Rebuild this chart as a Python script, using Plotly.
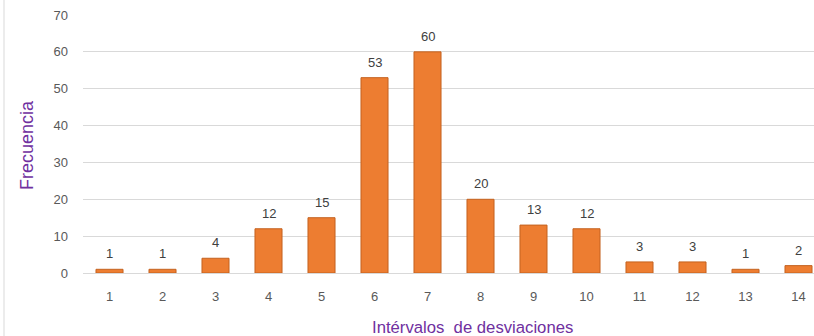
import plotly.graph_objects as go

# Frequency of deviations per interval
intervalos = [1, 2, 3, 4, 5, 6, 7, 8, 9, 10, 11, 12, 13, 14]
frecuencias = [1, 1, 4, 12, 15, 53, 60, 20, 13, 12, 3, 3, 1, 2]
y_ticks = [0, 10, 20, 30, 40, 50, 60, 70]

W, H = 814, 336
L, R, T, B = 83, 0, 15, 63
plot_w = W - L - R
plot_h = H - T - B

FONT = "Liberation Sans, Arial, sans-serif"
PURPLE = "#7030A0"

fig = go.Figure(
    go.Bar(
        x=intervalos,
        y=frecuencias,
        width=0.51,
        marker=dict(color="#ED7D31", line=dict(color="#C4621F", width=1)),
        hoverinfo="x+y",
    )
)

# value labels above each bar
for xi, yi in zip(intervalos, frecuencias):
    fig.add_annotation(
        x=xi, y=yi, text=str(yi), showarrow=False,
        yanchor="bottom", yshift=6,
        font=dict(family=FONT, size=13, color="#404040"),
    )

# axis titles
fig.add_annotation(
    xref="paper", yref="paper",
    x=(472 - L) / plot_w, y=(T + plot_h - 327) / plot_h,
    text="Intérvalos\u00a0 de desviaciones", showarrow=False,
    xanchor="center", yanchor="middle",
    font=dict(family=FONT, size=16.7, color=PURPLE),
)
fig.add_annotation(
    xref="paper", yref="paper",
    x=(27 - L) / plot_w, y=(T + plot_h - 145) / plot_h,
    text="Frecuencia", showarrow=False, textangle=-90,
    xanchor="center", yanchor="middle",
    font=dict(family=FONT, size=18, color=PURPLE),
)

# chart area border on the left
fig.add_shape(
    type="line", xref="paper", yref="paper",
    x0=(4 - L) / plot_w, x1=(4 - L) / plot_w,
    y0=(T + plot_h - 0) / plot_h, y1=(T + plot_h - H) / plot_h,
    line=dict(color="#D9D9D9", width=1),
)

fig.update_layout(
    width=W, height=H,
    margin=dict(l=L, r=R, t=T, b=B, pad=0),
    paper_bgcolor="white", plot_bgcolor="white",
    showlegend=False,
    bargap=0.49,
    xaxis=dict(
        range=[0.5, 0.5 + plot_w / 53.0],
        tickmode="array", tickvals=intervalos,
        ticktext=[str(v) for v in intervalos],
        showgrid=False, zeroline=False, showline=False,
        ticks="", ticklabelstandoff=14,
        tickfont=dict(family=FONT, size=13, color="#595959"),
        fixedrange=True,
    ),
    yaxis=dict(
        range=[0, 70],
        tickmode="array", tickvals=y_ticks,
        showgrid=True, gridcolor="#D9D9D9", gridwidth=1,
        zeroline=True, zerolinecolor="#D9D9D9", zerolinewidth=1,
        showline=False, ticks="", ticklabelstandoff=14,
        tickfont=dict(family=FONT, size=13, color="#595959"),
        fixedrange=True,
    ),
)

fig.write_html("out.html")
